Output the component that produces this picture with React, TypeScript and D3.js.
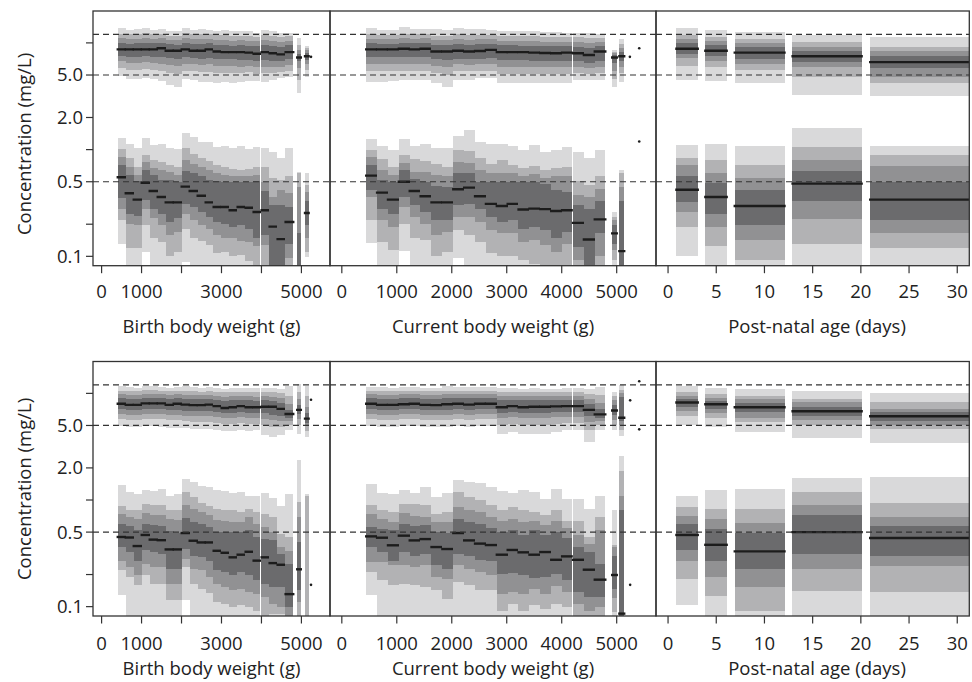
import React from 'react';
import * as d3 from 'd3';

// ---------- DATA ----------
// each band entry: [lo1, lo2, lo3, lo4, median, hi4, hi3, hi2, hi1]  (1 = outermost / lightest)
const birthBins: number[][] = [
  [400, 600], [600, 800], [800, 1000], [1000, 1200], [1200, 1400], [1400, 1600], [1600, 1800], [1800, 2000],
  [2000, 2200], [2200, 2400], [2400, 2600], [2600, 2800], [2800, 3000], [3000, 3200], [3200, 3400], [3400, 3600],
  [3600, 3800], [3800, 3975], [4000, 4200], [4200, 4400], [4400, 4600], [4600, 4800], [4890, 4990], [5085, 5185],
];
const currentBins: number[][] = [
  [440, 638], [638, 836], [836, 1034], [1034, 1232], [1232, 1430], [1430, 1628], [1628, 1826], [1826, 2024],
  [2024, 2222], [2222, 2420], [2420, 2618], [2618, 2816], [2816, 3014], [3014, 3212], [3212, 3410], [3410, 3608],
  [3608, 3806], [3806, 4004], [4004, 4184], [4202, 4400], [4400, 4598], [4598, 4796], [4915, 5005], [5045, 5140],
];
const ageBins: number[][] = [[0.85, 3.1], [3.85, 6.1], [6.9, 12.1], [12.9, 20.1], [20.95, 32]];

const r1BirthPeak: number[][] = [
  [4.9, 5.8, 6.7, 7.5, 8.7, 9.9, 11.0, 12.2, 13.7],
  [4.6, 5.6, 6.5, 7.4, 8.7, 9.8, 10.8, 12.0, 13.2],
  [4.6, 5.6, 6.5, 7.4, 8.7, 9.9, 10.9, 12.1, 13.4],
  [4.7, 5.7, 6.6, 7.5, 8.7, 10.0, 11.1, 12.3, 13.7],
  [4.6, 5.6, 6.5, 7.4, 8.7, 9.9, 10.9, 12.0, 13.2],
  [4.4, 5.5, 6.4, 7.4, 8.9, 10.0, 11.0, 12.1, 13.4],
  [4.0, 5.2, 6.2, 7.2, 8.45, 9.7, 10.7, 11.7, 12.8],
  [3.9, 5.1, 6.1, 7.1, 8.45, 9.6, 10.6, 11.7, 12.8],
  [4.6, 5.5, 6.4, 7.3, 8.7, 10.0, 11.0, 12.3, 13.7],
  [4.5, 5.4, 6.3, 7.2, 8.45, 9.7, 10.8, 12.0, 13.2],
  [4.3, 5.3, 6.2, 7.1, 8.45, 9.7, 10.8, 12.0, 13.4],
  [4.3, 5.3, 6.3, 7.2, 8.7, 9.9, 10.9, 12.0, 13.2],
  [4.2, 5.2, 6.1, 7.0, 8.3, 9.6, 10.6, 11.8, 13.0],
  [4.3, 5.2, 6.1, 7.0, 8.2, 9.5, 10.6, 11.8, 13.2],
  [4.2, 5.2, 6.1, 7.0, 8.2, 9.4, 10.5, 11.6, 12.8],
  [4.3, 5.2, 6.0, 6.9, 8.2, 9.5, 10.6, 11.7, 13.0],
  [4.4, 5.3, 6.1, 6.9, 8.1, 9.4, 10.4, 11.5, 12.8],
  [4.4, 5.1, 5.9, 6.7, 7.9, 9.3, 10.4, 11.4, 12.3],
  [4.3, 5.2, 6.0, 6.9, 8.2, 9.6, 10.7, 11.8, 13.2],
  [4.5, 5.2, 6.0, 6.8, 8.0, 9.3, 10.4, 11.5, 12.8],
  [4.65, 5.3, 6.0, 6.7, 7.8, 9.2, 10.2, 11.3, 12.5],
  [4.8, 5.5, 6.2, 7.0, 8.2, 9.5, 10.5, 11.6, 12.3],
  [3.4, 4.5, 5.8, 6.7, 7.3, 7.9, 8.6, 9.6, 11.0],
  [4.8, 5.6, 6.3, 6.9, 7.5, 8.0, 8.5, 8.9, 9.3],
];
const r1BirthTrough: number[][] = [
  [0.13, 0.22, 0.28, 0.355, 0.55, 0.72, 0.85, 1.01, 1.28],
  [0.07, 0.12, 0.2, 0.25, 0.39, 0.58, 0.68, 0.83, 1.13],
  [0.07, 0.12, 0.195, 0.24, 0.34, 0.51, 0.58, 0.68, 1.03],
  [0.11, 0.196, 0.28, 0.34, 0.49, 0.64, 0.77, 0.89, 1.28],
  [0.07, 0.15, 0.23, 0.28, 0.41, 0.58, 0.67, 0.8, 1.1],
  [0.07, 0.137, 0.196, 0.25, 0.36, 0.52, 0.64, 0.77, 1.14],
  [0.07, 0.1, 0.16, 0.21, 0.32, 0.52, 0.62, 0.72, 1.03],
  [0.07, 0.11, 0.17, 0.23, 0.32, 0.5, 0.58, 0.69, 1.01],
  [0.088, 0.18, 0.25, 0.31, 0.45, 0.63, 0.8, 1.03, 1.42],
  [0.07, 0.15, 0.22, 0.29, 0.41, 0.6, 0.74, 0.9, 1.32],
  [0.07, 0.14, 0.196, 0.26, 0.37, 0.56, 0.69, 0.84, 1.19],
  [0.07, 0.128, 0.18, 0.235, 0.32, 0.52, 0.64, 0.78, 1.19],
  [0.07, 0.107, 0.16, 0.21, 0.29, 0.51, 0.6, 0.72, 1.06],
  [0.07, 0.11, 0.15, 0.2, 0.29, 0.5, 0.58, 0.68, 1.09],
  [0.07, 0.1, 0.147, 0.19, 0.27, 0.5, 0.56, 0.66, 1.03],
  [0.07, 0.104, 0.14, 0.196, 0.29, 0.5, 0.56, 0.65, 1.09],
  [0.07, 0.09, 0.137, 0.18, 0.285, 0.5, 0.56, 0.66, 1.01],
  [0.07, 0.083, 0.125, 0.15, 0.26, 0.51, 0.58, 0.69, 1.06],
  [0.07, 0.083, 0.128, 0.16, 0.27, 0.41, 0.5, 0.69, 1.03],
  [0.06, 0.06, 0.06, 0.07, 0.19, 0.3, 0.36, 0.54, 0.96],
  [0.06, 0.06, 0.06, 0.07, 0.145, 0.3, 0.42, 0.52, 0.83],
  [0.06, 0.07, 0.096, 0.13, 0.21, 0.29, 0.39, 0.56, 1.03],
  [0.06, 0.06, 0.06, 0.06, 0.07, 0.164, 0.45, 0.6, 0.62],
  [0.098, 0.11, 0.147, 0.196, 0.255, 0.33, 0.4, 0.47, 0.6],
];
const r1CurrentPeak: number[][] = [
  [4.3, 5.4, 6.3, 7.3, 8.7, 9.9, 10.9, 12.0, 13.7],
  [4.3, 5.4, 6.3, 7.3, 8.7, 9.8, 10.8, 11.8, 13.2],
  [4.4, 5.5, 6.4, 7.3, 8.7, 9.8, 10.8, 11.8, 13.2],
  [4.5, 5.5, 6.4, 7.4, 8.8, 10.0, 11.0, 12.2, 14.2],
  [4.5, 5.5, 6.4, 7.3, 8.7, 9.9, 10.9, 12.0, 13.4],
  [4.5, 5.4, 6.3, 7.3, 8.8, 10.0, 11.0, 12.1, 13.4],
  [4.2, 5.2, 6.1, 7.0, 8.3, 9.6, 10.6, 11.7, 13.4],
  [3.9, 5.0, 6.0, 6.9, 8.3, 9.6, 10.6, 11.7, 13.2],
  [4.5, 5.4, 6.3, 7.1, 8.45, 9.8, 10.8, 12.0, 13.7],
  [4.5, 5.4, 6.2, 7.0, 8.3, 9.6, 10.7, 11.9, 13.5],
  [4.65, 5.5, 6.3, 7.1, 8.4, 9.7, 10.8, 11.9, 13.4],
  [4.65, 5.5, 6.3, 7.2, 8.6, 9.8, 10.8, 11.9, 13.2],
  [4.2, 5.1, 6.0, 6.9, 8.2, 9.5, 10.5, 11.6, 13.0],
  [4.2, 5.1, 6.0, 6.9, 8.2, 9.5, 10.5, 11.6, 12.9],
  [4.2, 5.1, 6.0, 6.9, 8.2, 9.4, 10.4, 11.5, 12.8],
  [4.2, 5.1, 6.0, 6.8, 8.1, 9.4, 10.4, 11.5, 12.8],
  [4.2, 5.1, 5.9, 6.8, 8.05, 9.3, 10.3, 11.4, 12.6],
  [4.2, 5.1, 5.9, 6.7, 8.0, 9.3, 10.3, 11.4, 12.6],
  [4.2, 5.1, 5.9, 6.8, 8.1, 9.3, 10.3, 11.4, 12.5],
  [4.5, 5.2, 5.9, 6.7, 8.0, 9.2, 10.3, 11.3, 12.3],
  [4.5, 5.1, 5.8, 6.5, 7.7, 9.0, 10.0, 11.1, 12.3],
  [4.5, 5.2, 5.9, 6.7, 8.3, 9.4, 10.3, 11.2, 12.1],
  [3.9, 4.6, 5.5, 6.5, 7.3, 7.7, 8.0, 8.3, 8.6],
  [4.3, 5.2, 6.0, 6.8, 7.5, 8.3, 9.0, 9.8, 10.8],
];
const r1CurrentTrough: number[][] = [
  [0.134, 0.22, 0.36, 0.42, 0.57, 0.72, 0.86, 1.0, 1.27],
  [0.07, 0.137, 0.22, 0.28, 0.395, 0.52, 0.64, 0.81, 1.08],
  [0.07, 0.115, 0.19, 0.25, 0.34, 0.5, 0.58, 0.69, 1.0],
  [0.112, 0.2, 0.29, 0.36, 0.5, 0.65, 0.75, 0.89, 1.27],
  [0.07, 0.15, 0.235, 0.3, 0.41, 0.53, 0.62, 0.82, 1.07],
  [0.07, 0.142, 0.2, 0.26, 0.365, 0.5, 0.62, 0.79, 1.14],
  [0.07, 0.1, 0.158, 0.22, 0.32, 0.46, 0.58, 0.73, 1.03],
  [0.07, 0.11, 0.17, 0.22, 0.32, 0.45, 0.56, 0.69, 1.03],
  [0.097, 0.175, 0.235, 0.3, 0.425, 0.61, 0.77, 0.99, 1.34],
  [0.07, 0.158, 0.235, 0.31, 0.44, 0.6, 0.75, 0.98, 1.53],
  [0.07, 0.137, 0.21, 0.28, 0.365, 0.5, 0.64, 0.83, 1.19],
  [0.07, 0.107, 0.175, 0.235, 0.31, 0.5, 0.6, 0.74, 1.14],
  [0.07, 0.1, 0.164, 0.21, 0.296, 0.5, 0.6, 0.8, 1.13],
  [0.07, 0.1, 0.164, 0.22, 0.31, 0.5, 0.6, 0.72, 1.07],
  [0.07, 0.092, 0.137, 0.18, 0.275, 0.5, 0.57, 0.67, 0.99],
  [0.07, 0.085, 0.142, 0.19, 0.28, 0.5, 0.59, 0.7, 1.1],
  [0.06, 0.07, 0.128, 0.175, 0.277, 0.48, 0.54, 0.64, 0.96],
  [0.06, 0.07, 0.11, 0.15, 0.266, 0.42, 0.56, 0.67, 0.99],
  [0.06, 0.07, 0.13, 0.17, 0.27, 0.4, 0.57, 0.69, 1.05],
  [0.06, 0.07, 0.092, 0.123, 0.206, 0.3, 0.375, 0.51, 0.94],
  [0.06, 0.06, 0.06, 0.07, 0.144, 0.28, 0.36, 0.47, 0.83],
  [0.06, 0.07, 0.1, 0.164, 0.222, 0.33, 0.43, 0.56, 0.99],
  [0.08, 0.092, 0.115, 0.13, 0.164, 0.196, 0.22, 0.235, 0.26],
  [0.06, 0.06, 0.06, 0.07, 0.112, 0.33, 0.45, 0.61, 0.64],
];
const r1AgePeak: number[][] = [
  [4.5, 6.1, 7.2, 7.9, 8.8, 10.0, 10.8, 11.9, 13.8],
  [4.4, 5.9, 6.8, 7.5, 8.45, 9.5, 10.5, 11.4, 13.2],
  [4.2, 5.6, 6.4, 7.1, 8.1, 9.1, 9.9, 10.9, 12.6],
  [3.25, 4.8, 5.9, 6.6, 7.5, 8.45, 9.2, 10.3, 11.9],
  [3.2, 4.2, 4.8, 5.8, 6.6, 7.5, 8.4, 9.2, 11.4],
];
const r1AgeTrough: number[][] = [
  [0.1, 0.19, 0.26, 0.32, 0.42, 0.57, 0.71, 0.84, 1.1],
  [0.06, 0.125, 0.19, 0.25, 0.36, 0.49, 0.61, 0.8, 1.13],
  [0.07, 0.092, 0.142, 0.196, 0.296, 0.42, 0.54, 0.72, 1.08],
  [0.06, 0.13, 0.224, 0.33, 0.48, 0.63, 0.8, 1.06, 1.6],
  [0.06, 0.12, 0.166, 0.22, 0.34, 0.5, 0.7, 0.89, 1.08],
];

const r2BirthPeak: number[][] = [
  [4.9, 5.7, 6.4, 7.1, 8.0, 9.0, 9.8, 10.6, 11.6],
  [4.8, 5.6, 6.3, 7.0, 7.8, 8.9, 9.7, 10.5, 11.4],
  [4.8, 5.6, 6.3, 7.0, 7.8, 8.9, 9.7, 10.5, 11.3],
  [4.9, 5.7, 6.4, 7.1, 8.05, 9.1, 9.9, 10.8, 11.8],
  [4.9, 5.7, 6.4, 7.1, 8.05, 9.1, 9.9, 10.7, 11.7],
  [4.8, 5.7, 6.4, 7.1, 8.05, 9.0, 9.8, 10.6, 11.5],
  [4.7, 5.6, 6.3, 7.0, 7.8, 8.9, 9.7, 10.5, 11.3],
  [4.7, 5.6, 6.3, 7.0, 8.0, 9.0, 9.8, 10.6, 11.5],
  [4.7, 5.5, 6.2, 6.9, 7.85, 8.9, 9.7, 10.6, 11.6],
  [4.6, 5.4, 6.1, 6.8, 7.75, 8.8, 9.6, 10.5, 11.4],
  [4.6, 5.4, 6.1, 6.8, 7.75, 8.8, 9.6, 10.4, 11.3],
  [4.6, 5.4, 6.1, 6.8, 7.85, 8.9, 9.7, 10.5, 11.4],
  [4.5, 5.3, 6.0, 6.7, 7.6, 8.7, 9.5, 10.3, 11.2],
  [4.4, 5.2, 5.9, 6.5, 7.3, 8.5, 9.3, 10.2, 11.1],
  [4.4, 5.2, 5.9, 6.6, 7.4, 8.6, 9.4, 10.3, 11.2],
  [4.5, 5.3, 6.0, 6.7, 7.6, 8.7, 9.5, 10.4, 11.3],
  [4.4, 5.2, 5.9, 6.6, 7.4, 8.6, 9.4, 10.3, 11.3],
  [4.5, 5.2, 5.9, 6.6, 7.4, 8.5, 9.3, 10.2, 11.2],
  [4.1, 5.0, 5.8, 6.5, 7.5, 8.6, 9.4, 10.3, 11.3],
  [3.9, 4.8, 5.6, 6.3, 7.5, 8.5, 9.3, 10.2, 11.2],
  [4.1, 4.8, 5.5, 6.2, 7.15, 8.2, 9.0, 10.0, 11.0],
  [4.5, 5.0, 5.5, 5.9, 6.4, 7.0, 8.0, 9.5, 11.8],
  [4.2, 5.0, 5.7, 6.4, 7.0, 7.8, 8.8, 10.2, 12.3],
  [3.9, 4.4, 4.9, 5.3, 5.8, 6.5, 7.5, 9.5, 11.6],
];
const r2BirthTrough: number[][] = [
  [0.128, 0.22, 0.27, 0.36, 0.45, 0.6, 0.74, 0.87, 1.37],
  [0.07, 0.19, 0.235, 0.325, 0.445, 0.57, 0.69, 0.81, 1.19],
  [0.07, 0.158, 0.2, 0.27, 0.37, 0.52, 0.67, 0.8, 1.13],
  [0.07, 0.2, 0.25, 0.34, 0.47, 0.6, 0.75, 0.92, 1.25],
  [0.07, 0.164, 0.235, 0.325, 0.425, 0.58, 0.73, 0.9, 1.21],
  [0.07, 0.164, 0.235, 0.31, 0.42, 0.57, 0.72, 0.89, 1.27],
  [0.07, 0.115, 0.164, 0.225, 0.344, 0.51, 0.67, 0.8, 1.08],
  [0.07, 0.115, 0.164, 0.225, 0.344, 0.49, 0.65, 0.8, 1.14],
  [0.115, 0.235, 0.28, 0.35, 0.49, 0.68, 0.89, 1.19, 1.58],
  [0.07, 0.164, 0.225, 0.3, 0.415, 0.62, 0.83, 1.07, 1.47],
  [0.07, 0.147, 0.22, 0.29, 0.4, 0.59, 0.77, 0.94, 1.34],
  [0.07, 0.134, 0.19, 0.27, 0.4, 0.56, 0.73, 0.87, 1.32],
  [0.07, 0.11, 0.164, 0.22, 0.334, 0.5, 0.65, 0.83, 1.25],
  [0.07, 0.107, 0.152, 0.21, 0.32, 0.5, 0.64, 0.81, 1.21],
  [0.07, 0.1, 0.142, 0.2, 0.29, 0.5, 0.62, 0.8, 1.16],
  [0.07, 0.103, 0.147, 0.21, 0.307, 0.5, 0.62, 0.77, 1.19],
  [0.07, 0.1, 0.137, 0.196, 0.327, 0.52, 0.69, 0.83, 1.1],
  [0.07, 0.092, 0.13, 0.176, 0.27, 0.45, 0.6, 0.77, 1.1],
  [0.07, 0.081, 0.123, 0.164, 0.29, 0.43, 0.56, 0.74, 1.16],
  [0.07, 0.085, 0.107, 0.152, 0.256, 0.42, 0.5, 0.69, 1.05],
  [0.07, 0.085, 0.1, 0.152, 0.247, 0.31, 0.36, 0.48, 0.87],
  [0.06, 0.06, 0.07, 0.1, 0.131, 0.25, 0.33, 0.45, 1.14],
  [0.06, 0.07, 0.11, 0.142, 0.224, 0.4, 0.69, 0.955, 2.35],
  [0.06, 0.06, 0.06, 0.06, 0.065, 0.07, 0.075, 1.1, 1.15],
];
const r2CurrentPeak: number[][] = [
  [4.9, 5.7, 6.4, 7.1, 8.0, 9.0, 9.8, 10.6, 11.5],
  [4.8, 5.6, 6.3, 7.0, 7.8, 8.9, 9.7, 10.5, 11.4],
  [4.8, 5.6, 6.3, 7.0, 7.8, 8.9, 9.7, 10.5, 11.3],
  [4.9, 5.7, 6.4, 7.1, 7.9, 9.0, 9.8, 10.6, 11.5],
  [4.9, 5.7, 6.4, 7.1, 8.0, 9.0, 9.8, 10.6, 11.4],
  [4.8, 5.6, 6.3, 7.0, 7.8, 8.9, 9.7, 10.5, 11.3],
  [4.8, 5.6, 6.3, 7.0, 7.75, 8.9, 9.7, 10.5, 11.3],
  [4.8, 5.6, 6.3, 7.0, 7.9, 9.0, 9.8, 10.6, 11.6],
  [4.9, 5.7, 6.4, 7.1, 8.0, 9.0, 9.8, 10.6, 11.5],
  [4.8, 5.6, 6.3, 7.0, 7.85, 9.0, 9.8, 10.6, 11.4],
  [4.9, 5.7, 6.4, 7.1, 8.0, 9.0, 9.8, 10.6, 11.4],
  [4.9, 5.7, 6.4, 7.1, 8.0, 9.0, 9.8, 10.6, 11.4],
  [4.2, 5.1, 5.9, 6.6, 7.4, 8.6, 9.4, 10.3, 11.2],
  [4.3, 5.2, 6.0, 6.7, 7.6, 8.7, 9.5, 10.4, 11.2],
  [4.2, 5.1, 5.9, 6.6, 7.4, 8.6, 9.4, 10.3, 11.1],
  [4.2, 5.1, 5.9, 6.6, 7.5, 8.6, 9.4, 10.3, 11.2],
  [4.2, 5.1, 5.9, 6.6, 7.5, 8.6, 9.4, 10.2, 11.0],
  [4.3, 5.2, 6.0, 6.7, 7.55, 8.6, 9.4, 10.2, 11.1],
  [4.5, 5.3, 6.0, 6.7, 7.6, 8.7, 9.5, 10.3, 11.2],
  [4.5, 5.3, 6.0, 6.7, 7.6, 8.7, 9.5, 10.3, 11.2],
  [3.5, 4.5, 5.4, 6.1, 7.0, 8.0, 8.8, 9.8, 11.0],
  [4.5, 5.0, 5.5, 5.9, 6.35, 7.2, 8.2, 9.6, 11.4],
  [4.5, 5.0, 5.6, 6.3, 6.9, 7.7, 8.6, 9.5, 10.3],
  [4.0, 4.5, 5.0, 5.5, 5.9, 9.2, 10.0, 10.8, 11.9],
];
const r2CurrentTrough: number[][] = [
  [0.128, 0.21, 0.26, 0.36, 0.456, 0.56, 0.74, 0.89, 1.4],
  [0.07, 0.177, 0.26, 0.325, 0.443, 0.54, 0.67, 0.8, 1.16],
  [0.07, 0.158, 0.244, 0.27, 0.376, 0.52, 0.62, 0.77, 1.13],
  [0.07, 0.164, 0.244, 0.325, 0.463, 0.59, 0.75, 0.92, 1.23],
  [0.07, 0.158, 0.235, 0.296, 0.418, 0.57, 0.71, 0.91, 1.16],
  [0.07, 0.152, 0.244, 0.31, 0.43, 0.58, 0.69, 0.89, 1.32],
  [0.07, 0.142, 0.19, 0.244, 0.362, 0.5, 0.62, 0.74, 1.07],
  [0.07, 0.118, 0.183, 0.226, 0.347, 0.49, 0.62, 0.77, 1.16],
  [0.07, 0.17, 0.244, 0.31, 0.49, 0.67, 0.86, 1.19, 1.53],
  [0.07, 0.158, 0.226, 0.296, 0.418, 0.62, 0.8, 1.07, 1.47],
  [0.07, 0.142, 0.21, 0.275, 0.39, 0.59, 0.77, 0.99, 1.44],
  [0.07, 0.142, 0.196, 0.27, 0.378, 0.55, 0.69, 0.89, 1.32],
  [0.07, 0.092, 0.132, 0.204, 0.307, 0.5, 0.63, 0.81, 1.21],
  [0.07, 0.107, 0.137, 0.206, 0.34, 0.52, 0.67, 0.86, 1.16],
  [0.07, 0.092, 0.132, 0.2, 0.323, 0.47, 0.62, 0.8, 1.23],
  [0.07, 0.103, 0.145, 0.186, 0.307, 0.52, 0.64, 0.77, 1.19],
  [0.07, 0.095, 0.132, 0.19, 0.325, 0.47, 0.58, 0.72, 1.03],
  [0.07, 0.107, 0.155, 0.204, 0.275, 0.5, 0.64, 0.8, 1.27],
  [0.07, 0.1, 0.137, 0.177, 0.296, 0.44, 0.55, 0.64, 1.03],
  [0.07, 0.081, 0.107, 0.137, 0.275, 0.36, 0.47, 0.64, 1.03],
  [0.07, 0.075, 0.092, 0.123, 0.222, 0.325, 0.39, 0.45, 0.83],
  [0.07, 0.075, 0.1, 0.123, 0.179, 0.25, 0.52, 0.69, 1.1],
  [0.08, 0.09, 0.12, 0.147, 0.198, 0.296, 0.36, 0.376, 0.81],
  [0.06, 0.06, 0.06, 0.07, 0.086, 0.8, 1.08, 1.87, 2.56],
];
const r2AgePeak: number[][] = [
  [5.1, 6.2, 6.9, 7.4, 8.2, 8.8, 9.4, 10.4, 11.8],
  [4.8, 5.9, 6.5, 7.2, 7.9, 8.45, 9.0, 9.9, 11.3],
  [4.3, 5.4, 5.9, 6.7, 7.4, 8.2, 8.8, 9.5, 11.0],
  [3.8, 5.0, 5.65, 6.2, 6.8, 7.5, 8.3, 8.9, 10.6],
  [3.4, 4.6, 5.0, 5.5, 6.1, 6.7, 7.2, 8.3, 10.1],
];
const r2AgeTrough: number[][] = [
  [0.103, 0.18, 0.27, 0.34, 0.47, 0.59, 0.71, 0.86, 1.1],
  [0.06, 0.125, 0.19, 0.27, 0.38, 0.53, 0.66, 0.83, 1.23],
  [0.06, 0.092, 0.152, 0.224, 0.33, 0.49, 0.61, 0.83, 1.26],
  [0.06, 0.14, 0.224, 0.31, 0.5, 0.73, 0.89, 1.18, 1.61],
  [0.06, 0.136, 0.24, 0.3, 0.44, 0.565, 0.69, 0.93, 1.66],
];

// single observations shown as points: [x, concentration]
const r1BirthDots: number[][] = [[5240, 7.4]];
const r1CurrentDots: number[][] = [[5240, 7.4], [5410, 8.9], [5410, 1.19]];
const r1AgeDots: number[][] = [];
const r2BirthDots: number[][] = [[5240, 8.7], [5240, 0.16]];
const r2CurrentDots: number[][] = [[5245, 8.6], [5410, 13.0], [5410, 4.6], [5245, 0.16]];
const r2AgeDots: number[][] = [];

const weightTicks = [0, 1000, 2000, 3000, 4000, 5000];
const birthTickLabels = ['0', '1000', '', '3000', '', '5000'];
const currentTickLabels = ['0', '1000', '2000', '3000', '4000', '5000'];
const ageTicks = [0, 5, 10, 15, 20, 25, 30];
const ageTickLabels = ['0', '5', '10', '15', '20', '25', '30'];
const yTicks = [0.1, 0.2, 0.5, 1, 2, 5, 10];
const yTickLabels = ['0.1', '', '0.5', '', '2.0', '5.0', ''];
const refLines = [0.5, 5, 12];
const xTitles = ['Birth body weight (g)', 'Current body weight (g)', 'Post-natal age (days)'];
const yTitle = 'Concentration (mg/L)';

// ---------- LAYOUT ----------
const FONT = "'Open Sans', 'Noto Sans', 'DejaVu Sans', sans-serif";
const FS = 18.5;
const BAND_COLORS = ['#d9d9da', '#b2b2b4', '#919193', '#6b6b6d'];
const AXIS = '#333';
const Y_DOMAIN: [number, number] = [0.0817, 19.9];

const rowsLayout = [
  { top: 11, bottom: 265.7, tickBase: 298, titleBase: 333, yTitleC: 144 },
  { top: 361.5, bottom: 616, tickBase: 650, titleBase: 675, yTitleC: 489 },
];
const panelsLayout = [
  { x0: 93, x1: 330, domain: [-215, 5715], titleX: 211.5 },
  { x0: 330, x1: 656, domain: [-215, 5715], titleX: 493 },
  { x0: 656, x1: 969.3, domain: [-1.25, 31.25], titleX: 817 },
];

export default function App() {
  const rowData = [
    [
      { bins: birthBins, groups: [r1BirthPeak, r1BirthTrough], dots: r1BirthDots, ticks: weightTicks, labels: birthTickLabels },
      { bins: currentBins, groups: [r1CurrentPeak, r1CurrentTrough], dots: r1CurrentDots, ticks: weightTicks, labels: currentTickLabels },
      { bins: ageBins, groups: [r1AgePeak, r1AgeTrough], dots: r1AgeDots, ticks: ageTicks, labels: ageTickLabels },
    ],
    [
      { bins: birthBins, groups: [r2BirthPeak, r2BirthTrough], dots: r2BirthDots, ticks: weightTicks, labels: birthTickLabels },
      { bins: currentBins, groups: [r2CurrentPeak, r2CurrentTrough], dots: r2CurrentDots, ticks: weightTicks, labels: currentTickLabels },
      { bins: ageBins, groups: [r2AgePeak, r2AgeTrough], dots: r2AgeDots, ticks: ageTicks, labels: ageTickLabels },
    ],
  ];

  return (
    <svg width={972} height={682} style={{ position: 'absolute', left: 0, top: 0, display: 'block', background: '#fff' }}
      fontFamily={FONT}>
      <rect x={0} y={0} width={972} height={682} fill="#fff" />
      {rowsLayout.map((row, ri) => {
        const y = d3.scaleLog().domain(Y_DOMAIN).range([row.bottom, row.top]);
        return (
          <g key={ri}>
            {panelsLayout.map((P, pi) => {
              const d = rowData[ri][pi];
              const x = d3.scaleLinear().domain(P.domain).range([P.x0, P.x1]);
              const clipId = `clip-${ri}-${pi}`;
              return (
                <g key={pi}>
                  <clipPath id={clipId}>
                    <rect x={P.x0} y={row.top} width={P.x1 - P.x0} height={row.bottom - row.top} />
                  </clipPath>
                  <g clipPath={`url(#${clipId})`}>
                    {d.groups.map((grp, gi) => (
                      <g key={gi}>
                        {grp.map((q, bi) => {
                          const [b0, b1] = d.bins[bi];
                          const xa = x(b0), xb = x(b1);
                          return (
                            <g key={bi}>
                              {BAND_COLORS.map((c, k) => {
                                const lo = Math.min(q[k], q[8 - k]);
                                const hi = Math.max(q[k], q[8 - k]);
                                return (
                                  <rect key={k} x={xa} width={xb - xa} y={y(hi)} height={y(lo) - y(hi)} fill={c}
                                    shapeRendering="crispEdges" />
                                );
                              })}
                              <line x1={xa - 1} x2={xb + 1} y1={y(q[4])} y2={y(q[4])} stroke="#1c1c1c" strokeWidth={2.4} />
                            </g>
                          );
                        })}
                      </g>
                    ))}
                    {d.dots.map((p, i) => (
                      <circle key={i} cx={x(p[0])} cy={y(p[1])} r={1.3} fill="#1c1c1c" />
                    ))}
                  </g>
                  {refLines.map((v) => (
                    <line key={v} x1={P.x0} x2={P.x1} y1={y(v)} y2={y(v)} stroke={AXIS} strokeWidth={1.2}
                      strokeDasharray="6,4" />
                  ))}
                  <rect x={P.x0} y={row.top} width={P.x1 - P.x0} height={row.bottom - row.top} fill="none"
                    stroke={AXIS} strokeWidth={1.3} />
                  {d.ticks.map((t, i) => (
                    <g key={t}>
                      <line x1={x(t)} x2={x(t)} y1={row.bottom} y2={row.bottom + 7.5} stroke={AXIS} strokeWidth={1.2} />
                      {d.labels[i] && (
                        <text x={x(t)} y={row.tickBase} textAnchor="middle" fontSize={FS} fill="#222">{d.labels[i]}</text>
                      )}
                    </g>
                  ))}
                  <text x={P.titleX} y={row.titleBase} textAnchor="middle" fontSize={FS} fill="#222">{xTitles[pi]}</text>
                  {pi === 0 && (
                    <g>
                      {yTicks.map((t, i) => (
                        <g key={t}>
                          <line x1={P.x0 - 7} x2={P.x0} y1={y(t)} y2={y(t)} stroke={AXIS} strokeWidth={1.2} />
                          {yTickLabels[i] && (
                            <text x={P.x0 - 10} y={y(t)} dy="0.35em" textAnchor="end" fontSize={FS} fill="#222">
                              {yTickLabels[i]}
                            </text>
                          )}
                        </g>
                      ))}
                      <text transform={`translate(25,${row.yTitleC}) rotate(-90)`} textAnchor="middle" dy="0.35em"
                        fontSize={FS} fill="#222">{yTitle}</text>
                    </g>
                  )}
                </g>
              );
            })}
          </g>
        );
      })}
    </svg>
  );
}
